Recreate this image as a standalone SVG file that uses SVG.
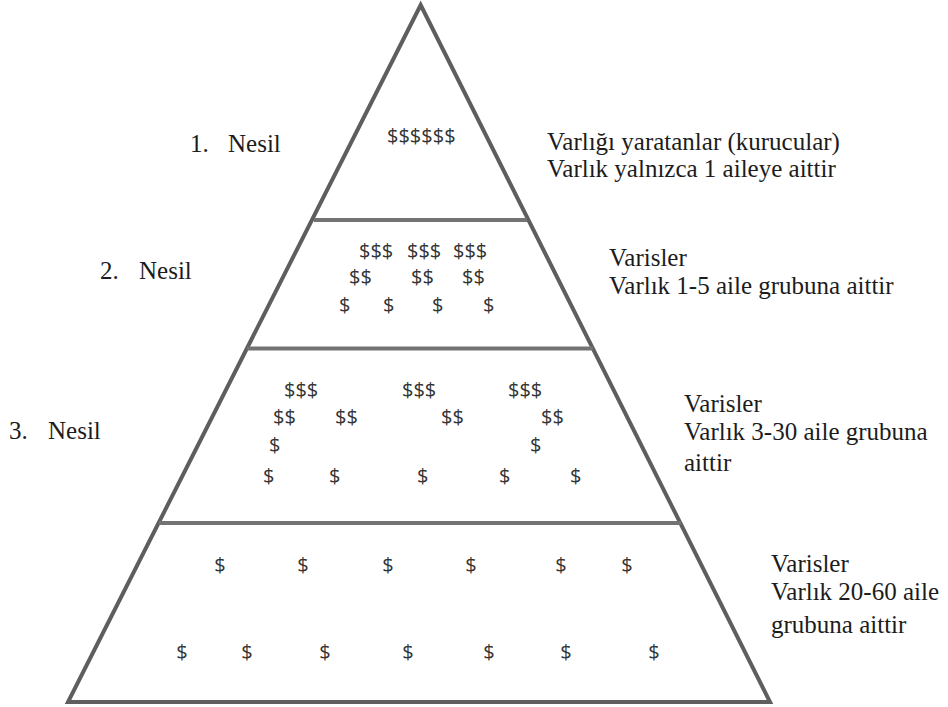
<svg xmlns="http://www.w3.org/2000/svg" width="948" height="707" viewBox="0 0 948 707">
<style>
.outline{fill:#fff;stroke:#5e5e5e;stroke-width:4;stroke-linejoin:miter}
.div{stroke:#737373;stroke-width:4;fill:none}
.lbl{font-family:"Liberation Serif","Times New Roman",serif;font-size:25px;fill:#1c1c1c}
.d{font-family:"Open Sans","Liberation Sans",Arial,sans-serif;font-size:20px;fill:#333}
.c{text-anchor:middle}
</style>
<rect width="948" height="707" fill="#fff"/>
<g id="pyramid">
<polygon class="outline" points="420.7,5 68,702 770,702"/>
<line class="div" x1="314" y1="220" x2="527" y2="220"/>
<line class="div" x1="247" y1="348.5" x2="593" y2="348.5"/>
<line class="div" x1="159" y1="523" x2="681" y2="523"/>
</g>
<g id="connectors"></g>
<g id="tier1">
<text class="d" x="387" y="143">$$$$$$</text>
<text class="lbl" x="190" y="152">1.</text>
<text class="lbl" x="228" y="152">Nesil</text>
<text class="lbl" x="547" y="150">Varlığı yaratanlar (kurucular)</text>
<text class="lbl" x="547" y="177">Varlık yalnızca 1 aileye aittir</text>
</g>
<g id="tier2">
<text class="d" x="359" y="257.5">$$$</text>
<text class="d" x="407" y="257.5">$$$</text>
<text class="d" x="453" y="257.5">$$$</text>
<text class="d" x="349" y="283.5">$$</text>
<text class="d" x="411" y="283.5">$$</text>
<text class="d" x="462" y="283.5">$$</text>
<text class="d" x="339" y="311.5">$</text>
<text class="d" x="383" y="311.5">$</text>
<text class="d" x="432" y="311.5">$</text>
<text class="d" x="483" y="311.5">$</text>
<text class="lbl" x="100" y="279">2.</text>
<text class="lbl" x="139" y="279">Nesil</text>
<text class="lbl" x="609" y="266">Varisler</text>
<text class="lbl" x="609" y="294">Varlık 1-5 aile grubuna aittir</text>
</g>
<g id="tier3">
<text class="d" x="284" y="396.5">$$$</text>
<text class="d" x="402" y="396.5">$$$</text>
<text class="d" x="508" y="396.5">$$$</text>
<text class="d" x="273" y="424">$$</text>
<text class="d" x="335" y="424">$$</text>
<text class="d" x="441" y="424">$$</text>
<text class="d" x="541" y="424">$$</text>
<text class="d" x="269" y="451.5">$</text>
<text class="d" x="530" y="451.5">$</text>
<text class="d" x="263" y="483">$</text>
<text class="d" x="329" y="483">$</text>
<text class="d" x="417" y="483">$</text>
<text class="d" x="499" y="483">$</text>
<text class="d" x="570" y="483">$</text>
<text class="lbl" x="9" y="439">3.</text>
<text class="lbl" x="48" y="439">Nesil</text>
<text class="lbl" x="684" y="412">Varisler</text>
<text class="lbl" x="684" y="440">Varlık 3-30 aile grubuna</text>
<text class="lbl" x="684" y="471">aittir</text>
</g>
<g id="tier4">
<text class="d c" x="220" y="572">$</text>
<text class="d c" x="303" y="572">$</text>
<text class="d c" x="388" y="572">$</text>
<text class="d c" x="471" y="572">$</text>
<text class="d c" x="561" y="572">$</text>
<text class="d c" x="627" y="572">$</text>
<text class="d c" x="182" y="659">$</text>
<text class="d c" x="247" y="659">$</text>
<text class="d c" x="325" y="659">$</text>
<text class="d c" x="408" y="659">$</text>
<text class="d c" x="489" y="659">$</text>
<text class="d c" x="566" y="659">$</text>
<text class="d c" x="654" y="659">$</text>
<text class="lbl" x="771" y="572">Varisler</text>
<text class="lbl" x="771" y="600">Varlık 20-60 aile</text>
<text class="lbl" x="771" y="633">grubuna aittir</text>
</g>
</svg>
